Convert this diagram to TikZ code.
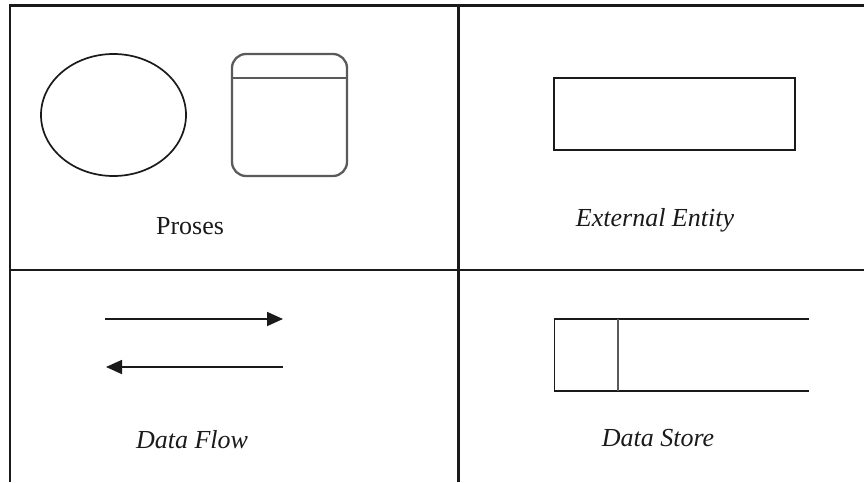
\documentclass[tikz,border=0pt]{standalone}
\usepackage{fontspec}
\setmainfont{Liberation Serif}
\usetikzlibrary{arrows.meta,positioning,shapes.geometric}
\definecolor{dfdInk} {HTML}{1A1A1A}
\definecolor{dfdGrey}{HTML}{5A5A5A}

\begin{document}
\begin{tikzpicture}[x=1pt,y=-1pt,
    grid/.style={draw=dfdInk,line width=2.2pt},
    shapeline/.style={draw=dfdInk,line width=1.7pt},
    caption/.style={inner sep=0,font=\fontsize{26}{30}\selectfont,text=dfdInk},
    flow/.style={shapeline,-{Triangle[length=16pt,width=14pt]}}]
    \useasboundingbox (0,0) rectangle (864,482);
    % table lines
    \coordinate (tl) at (10,5.5);
    \coordinate (tr) at (864,5.5);
    \coordinate (ml) at (10,270);
    \coordinate (mr) at (864,270);
    \coordinate (bl) at (10,482);
    \coordinate (ct) at (458.5,5.5);
    \coordinate (cb) at (458.5,482);
    \draw[grid] (tr) -- (tl) -- (bl);
    \draw[grid] (ml) -- (mr);
    \draw[grid] (ct) -- (cb);
    % proses
    \node[shapeline,ellipse,minimum width=145,minimum height=122] (proc) at (113.5,115) {};
    \node[shapeline,rectangle,rounded corners=14pt,minimum width=115,minimum height=122,
      line width=2.3pt,draw=dfdGrey] (proc2) at (289.5,115) {};
    \draw[draw=dfdGrey,line width=2.3pt] ([yshift=-25]proc2.north west) -- ([yshift=-25]proc2.north east);
    \node[caption] (lproc) at (190,226) {Proses};
    % external entity
    \node[shapeline,rectangle,minimum width=241,minimum height=72] (ext) at (674.5,114) {};
    \node[caption,font=\fontsize{26}{30}\selectfont\itshape] (lext) at (655,220) {External Entity};
    % data flow
    \coordinate (fa1) at (105,319);
    \coordinate (fa2) at (283,319);
    \coordinate (fb1) at (283,367);
    \coordinate (fb2) at (106,367);
    \draw[flow] (fa1) -- (fa2);
    \draw[flow] (fb1) -- (fb2);
    \node[caption,font=\fontsize{26}{30}\selectfont\itshape] (lflow) at (192,440) {Data Flow};
    % data store
    \coordinate (s1) at (809,319);
    \coordinate (s2) at (554.5,319);
    \coordinate (s3) at (554.5,391);
    \coordinate (s4) at (809,391);
    \coordinate (sv1) at (618,319);
    \coordinate (sv2) at (618,391);
    \draw[shapeline] (s1) -- (s2) -- (s3) -- (s4);
    \draw[draw=dfdGrey,line width=2pt] (sv1) -- (sv2);
    \node[caption,font=\fontsize{26}{30}\selectfont\itshape] (lstore) at (658,438) {Data Store};
\end{tikzpicture}
\end{document}
